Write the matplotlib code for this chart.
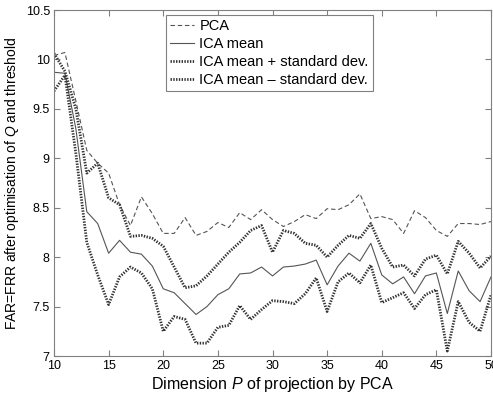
import numpy as np
import matplotlib
matplotlib.use("Agg")
import matplotlib.pyplot as plt

# Dimension P of projection by PCA
dims = list(range(10, 51))

# FAR=FRR values
pca = [10.04, 10.07, 9.58, 9.08, 8.95, 8.85, 8.53, 8.32, 8.61, 8.44,
       8.24, 8.24, 8.40, 8.22, 8.26, 8.35, 8.30, 8.45, 8.38, 8.48,
       8.38, 8.31, 8.36, 8.43, 8.39, 8.49, 8.48, 8.53, 8.64, 8.39,
       8.41, 8.38, 8.24, 8.47, 8.40, 8.27, 8.21, 8.34, 8.34, 8.33, 8.36]
ica_mean = [9.87, 9.86, 9.30, 8.46, 8.34, 8.04, 8.17, 8.05, 8.03, 7.91,
            7.68, 7.64, 7.53, 7.42, 7.50, 7.62, 7.68, 7.83, 7.84, 7.90,
            7.81, 7.90, 7.91, 7.93, 7.97, 7.72, 7.91, 8.04, 7.96, 8.14,
            7.82, 7.73, 7.80, 7.63, 7.81, 7.84, 7.43, 7.86, 7.66, 7.55, 7.80]
ica_upper = [10.06, 9.88, 9.50, 8.85, 8.95, 8.60, 8.53, 8.21, 8.22, 8.19,
             8.11, 7.90, 7.69, 7.71, 7.81, 7.93, 8.05, 8.15, 8.27, 8.32,
             8.05, 8.27, 8.24, 8.14, 8.12, 8.00, 8.12, 8.22, 8.19, 8.34,
             8.09, 7.90, 7.92, 7.81, 7.98, 8.02, 7.83, 8.16, 8.04, 7.89, 8.01]
ica_lower = [9.68, 9.84, 9.05, 8.15, 7.82, 7.52, 7.80, 7.90, 7.84, 7.68,
             7.25, 7.40, 7.37, 7.13, 7.13, 7.29, 7.31, 7.51, 7.37, 7.47,
             7.56, 7.55, 7.53, 7.63, 7.79, 7.45, 7.75, 7.84, 7.74, 7.92,
             7.54, 7.59, 7.64, 7.48, 7.62, 7.67, 7.05, 7.55, 7.34, 7.25, 7.62]

labels = ["PCA", "ICA mean", "ICA mean + standard dev.", "ICA mean \u2013 standard dev."]
x_ticks = [10, 15, 20, 25, 30, 35, 40, 45, 50]
y_ticks = [7, 7.5, 8, 8.5, 9, 9.5, 10, 10.5]


def plot_error_rates() -> None:
    """
    Draws the error rate curves of PCA and ICA and saves them to out.png.
    """
    plt.rcParams["font.family"] = ["Liberation Sans", "DejaVu Sans"]
    plt.rcParams["mathtext.fontset"] = "custom"
    plt.rcParams["mathtext.rm"] = "Liberation Sans"
    plt.rcParams["mathtext.it"] = "Liberation Sans:italic"

    fig = plt.figure(figsize=(4.93, 3.94), dpi=100)
    ax = fig.add_axes([54 / 493, 1 - 356 / 394, 437 / 493, 346 / 394])

    ax.plot(dims, pca, color="#555555", linewidth=0.8, linestyle=(0, (4, 2.5)), label=labels[0])
    ax.plot(dims, ica_mean, color="#555555", linewidth=0.8, label=labels[1])
    ax.plot(dims, ica_upper, color="#333333", linewidth=2.0, linestyle=(0, (0.5, 0.5)), label=labels[2])
    ax.plot(dims, ica_lower, color="#333333", linewidth=2.0, linestyle=(0, (0.5, 0.5)), label=labels[3])

    ax.set_xlim(10, 50)
    ax.set_ylim(7, 10.5)
    ax.set_xticks(x_ticks)
    ax.set_yticks(y_ticks)
    ax.set_yticklabels([f"{t:g}" for t in y_ticks])
    ax.tick_params(direction="in", length=4, width=0.8, color="#808080",
                   labelsize=9, top=True, right=True, pad=3)
    for spine in ax.spines.values():
        spine.set_color("#808080")
        spine.set_linewidth(0.8)

    ax.set_xlabel("Dimension $P$ of projection by PCA", fontsize=11.5, labelpad=2)
    ax.set_ylabel("FAR=FRR after optimisation of $Q$ and threshold", fontsize=10, labelpad=3)

    leg = ax.legend(loc="upper left", bbox_to_anchor=(0.256, 0.986), borderaxespad=0,
                    fontsize=10.5, fancybox=False, framealpha=1, edgecolor="#808080",
                    handlelength=1.6, handletextpad=0.4, labelspacing=0.27,
                    borderpad=0.3)
    leg.get_frame().set_linewidth(0.8)

    fig.savefig("out.png", dpi=100)


def main() -> None:
    plot_error_rates()


if __name__ == "__main__":
    main()
